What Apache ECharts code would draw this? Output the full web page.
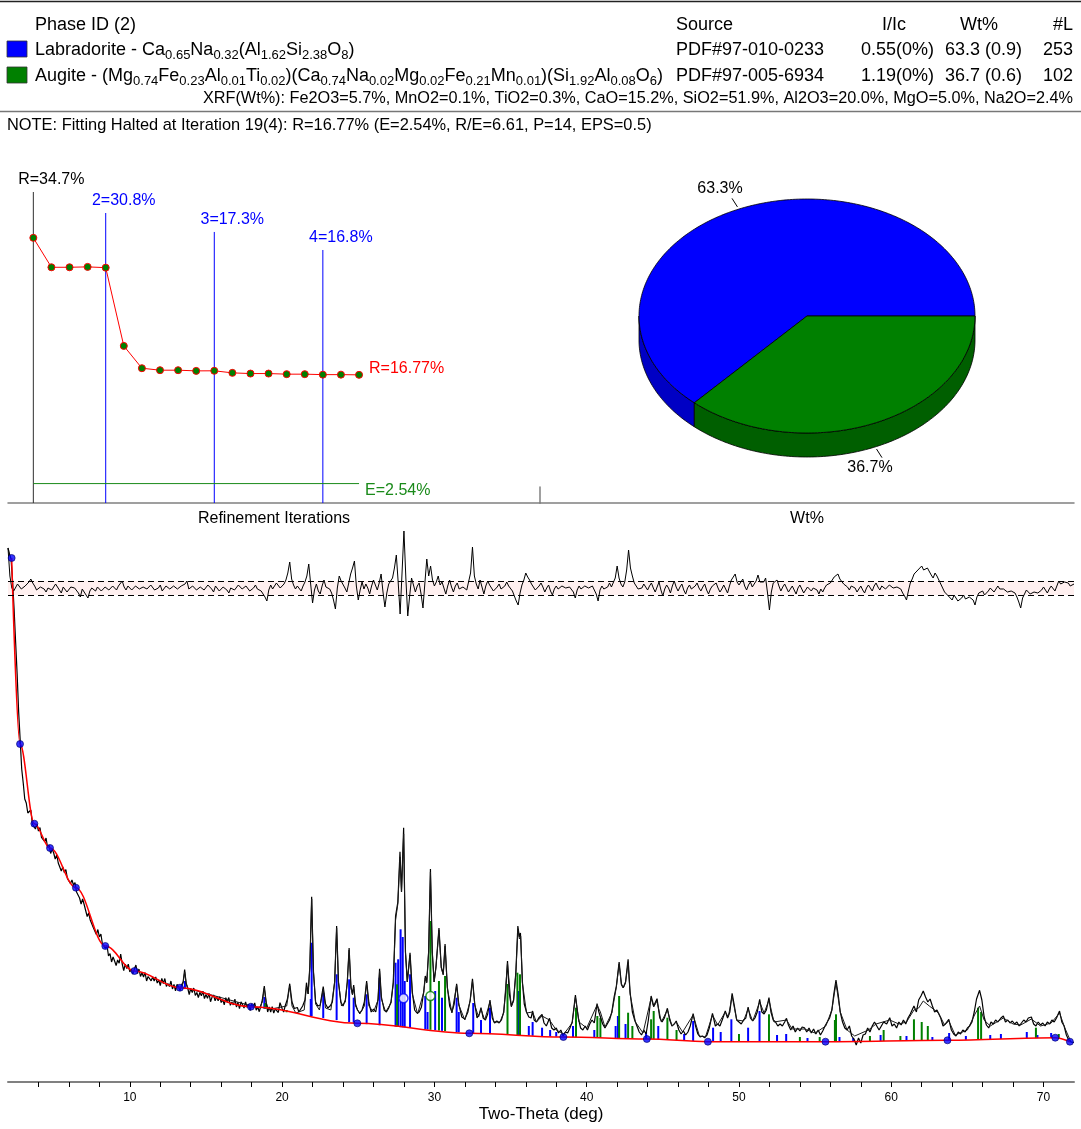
<!DOCTYPE html>
<html>
<head>
<meta charset="utf-8">
<script src="https://cdn.jsdelivr.net/npm/echarts@6.0.0/dist/echarts.min.js"></script>
<style>
html,body{margin:0;padding:0;background:#fff;}
#chart{width:1081px;height:1129px;}
</style>
</head>
<body>
<div id="chart"></div>
<script>
// ================= DATA =================
const phaseNames = ['Labradorite', 'Augite'];
const phaseFormulas = [
  'Ca_{0.65}Na_{0.32}(Al_{1.62}Si_{2.38}O_{8})',
  '(Mg_{0.74}Fe_{0.23}Al_{0.01}Ti_{0.02})(Ca_{0.74}Na_{0.02}Mg_{0.02}Fe_{0.21}Mn_{0.01})(Si_{1.92}Al_{0.08}O_{6})'
];
const phaseSource = ['PDF#97-010-0233', 'PDF#97-005-6934'];
const phaseIIc = ['0.55(0%)', '1.19(0%)'];
const phaseWt = [63.3, 36.7];
const phaseWtErr = [0.9, 0.6];
const phaseNumLines = [253, 102];
const tableHeaders = ['Phase ID (2)', 'Source', 'I/Ic', 'Wt%', '#L'];
const xrfText = 'XRF(Wt%): Fe2O3=5.7%, MnO2=0.1%, TiO2=0.3%, CaO=15.2%, SiO2=51.9%, Al2O3=20.0%, MgO=5.0%, Na2O=2.4%';
const noteText = 'NOTE: Fitting Halted at Iteration 19(4): R=16.77% (E=2.54%, R/E=6.61, P=14, EPS=0.5)';

// refinement iterations: R (%) per iteration
const iterR = [34.7, 30.85, 30.85, 30.9, 30.8, 20.56, 17.64, 17.38, 17.38, 17.29, 17.3, 17.03, 16.94, 16.94, 16.86, 16.86, 16.8, 16.8, 16.77];
const stageIters = [1, 5, 11, 17];
const stageR = [34.7, 30.8, 17.3, 16.8];
const finalR = 16.77;
const expectedE = 2.54;

// XRD pattern (Two-Theta deg, intensity)
const bgNodes = [[2.24,5240],[2.79,3380],[3.73,2583],[4.76,2340],[6.46,1943],[8.39,1360],[10.31,1110],[13.29,943],[17.95,753],[24.94,587],[32.29,487],[38.47,450],[43.95,430],[47.96,403],[55.68,403],[63.69,417],[70.77,443],[71.73,403]];

const obsData = [
[2.0,5340],[2.1,5280],[2.2,5230],[2.3,5010],[2.4,4730],[2.5,4400],[2.6,4080],[2.7,3700],[2.8,3420],[2.9,3130],
[3.0,2990],[3.1,2830],[3.2,2790],[3.3,2690],[3.4,2700],[3.5,2720],[3.6,2580],[3.7,2600],[3.8,2530],[3.9,2580],
[4.0,2510],[4.1,2545],[4.2,2445],[4.3,2455],[4.4,2405],[4.5,2440],[4.6,2345],[4.7,2370],[4.8,2285],[4.9,2330],
[5.0,2290],[5.1,2230],[5.2,2270],[5.3,2190],[5.4,2200],[5.5,2110],[5.6,2150],[5.7,2095],[5.8,2125],[5.9,2035],
[6.0,2050],[6.1,1985],[6.2,2020],[6.3,1970],[6.4,1995],[6.5,1900],[6.6,1910],[6.7,1840],[6.8,1780],[6.9,1830],
[7.0,1775],[7.1,1765],[7.2,1655],[7.3,1690],[7.4,1620],[7.5,1630],[7.6,1545],[7.7,1550],[7.8,1475],[7.9,1525],
[8.0,1450],[8.1,1480],[8.2,1380],[8.3,1385],[8.4,1335],[8.5,1365],[8.6,1260],[8.7,1285],[8.8,1200],[8.9,1250],
[9.0,1210],[9.1,1165],[9.2,1220],[9.3,1188],[9.4,1280],[9.5,1180],[9.6,1115],[9.7,1178],[9.8,1135],[9.9,1178],
[10.0,1100],[10.1,1130],[10.2,1080],[10.3,1130],[10.4,1170],[10.5,1085],[10.6,1130],[10.7,1055],[10.8,1093],[10.9,1050],
[11.0,1095],[11.1,1010],[11.2,1055],[11.3,1075],[11.4,1012],[11.5,1050],[11.6,1010],[11.7,1050],[11.8,990],[11.9,1020],
[12.0,965],[12.1,1035],[12.2,985],[12.3,1035],[12.4,955],[12.5,985],[12.6,955],[12.7,1010],[12.8,930],[12.9,975],
[13.0,912],[13.1,977],[13.2,948],[13.3,913],[13.4,973],[13.5,1000],[13.6,1125],[13.7,985],[13.8,940],[13.9,875],
[14.0,935],[14.1,895],[14.2,940],[14.3,865],[14.4,895],[14.5,845],[14.6,896],[14.7,862],[14.8,908],[14.9,834],
[15.0,875],[15.1,836],[15.2,887],[15.3,803],[15.4,849],[15.5,870],[15.6,811],[15.7,852],[15.8,813],[15.9,854],
[16.0,795],[16.1,826],[16.2,772],[16.3,843],[16.4,794],[16.5,845],[16.6,767],[16.7,799],[16.8,771],[16.9,828],
[17.0,750],[17.1,797],[17.2,734],[17.3,801],[17.4,773],[17.5,740],[17.6,801],[17.7,747],[17.8,778],[17.9,715],
[18.0,782],[18.1,744],[18.2,791],[18.3,718],[18.4,750],[18.5,703],[18.6,756],[18.7,820],[18.83,960],[18.95,800],
[19.05,700],[19.15,752],[19.25,700],[19.35,753],[19.45,690],[19.55,731],[19.65,748],[19.75,695],[19.86,793],[20.0,735],
[20.1,700],[20.2,760],[20.35,830],[20.5,983],[20.65,800],[20.8,735],[21.0,745],[21.1,700],[21.2,720],[21.35,760],[21.5,820],[21.6,993],
[21.7,880],[21.82,1150],[21.94,1853],[22.06,1100],[22.2,800],[22.35,760],[22.5,770],[22.7,953],[22.85,780],[23.0,740],
[23.15,760],[23.3,800],[23.45,1000],[23.58,1560],[23.7,1000],[23.85,800],[24.0,760],[24.15,820],[24.28,1000],[24.4,1340],
[24.52,950],[24.62,880],[24.7,970],[24.82,780],[24.95,720],[25.1,690],[25.25,720],[25.4,800],[25.55,1010],[25.7,790],
[25.85,700],[26.0,730],[26.15,700],[26.3,830],[26.4,1133],[26.52,850],[26.7,720],[26.85,700],[27.0,740],[27.15,800],
[27.3,1000],[27.45,1660],[27.6,1800],[27.74,2303],[27.84,1900],[27.98,2543],[28.1,1300],[28.22,1000],[28.4,1293],[28.55,900],
[28.7,720],[28.85,690],[29.0,700],[29.15,750],[29.3,900],[29.4,1060],[29.5,1000],[29.62,1300],[29.74,2130],[29.86,1300],
[29.98,1000],[30.1,1150],[30.3,1540],[30.45,1150],[30.58,1080],[30.7,1380],[30.85,950],[31.0,760],[31.15,700],[31.3,780],
[31.46,983],[31.6,780],[31.8,650],[32.0,630],[32.2,700],[32.35,820],[32.5,1033],[32.65,780],[32.8,640],[32.95,680],
[33.06,743],[33.2,640],[33.35,620],[33.5,680],[33.65,820],[33.8,640],[33.95,590],[34.1,610],[34.25,590],[34.4,620],
[34.55,700],[34.68,900],[34.8,1210],[34.92,880],[35.05,760],[35.2,820],[35.35,1100],[35.48,1560],[35.58,1450],[35.65,1490],
[35.78,1000],[35.9,780],[36.05,700],[36.2,650],[36.35,640],[36.45,710],[36.55,620],[36.7,600],[36.85,640],[37.07,677],
[37.2,590],[37.35,560],[37.56,637],[37.7,540],[37.85,520],[38.0,540],[38.15,490],[38.3,520],[38.45,460],[38.6,500],
[38.75,490],[38.9,540],[39.05,600],[39.26,870],[39.45,640],[39.6,540],[39.75,520],[39.9,560],[40.05,520],[40.2,580],
[40.35,620],[40.5,590],[40.68,783],[40.8,700],[40.9,710],[41.05,580],[41.2,540],[41.35,580],[41.5,620],[41.65,700],
[41.8,850],[41.95,960],[42.13,1200],[42.28,980],[42.4,943],[42.55,1000],[42.72,1227],[42.85,900],[43.0,700],[43.15,620],
[43.3,560],[43.45,500],[43.6,470],[43.75,520],[43.9,480],[44.05,620],[44.23,860],[44.4,760],[44.62,833],[44.8,640],
[44.95,600],[45.1,640],[45.3,737],[45.45,620],[45.6,560],[45.75,580],[45.88,610],[46.05,520],[46.2,480],[46.35,510],
[46.5,470],[46.65,500],[46.8,560],[46.99,683],[47.15,560],[47.3,480],[47.45,450],[47.6,460],[47.75,443],[47.9,470],
[48.05,540],[48.26,687],[48.45,560],[48.6,580],[48.75,560],[48.9,620],[49.1,710],[49.25,640],[49.4,700],[49.55,887],
[49.7,760],[49.85,620],[50.0,600],[50.15,580],[50.3,620],[50.45,640],[50.6,750],[50.75,640],[50.9,610],[51.05,640],
[51.2,700],[51.36,827],[51.5,700],[51.65,680],[51.8,720],[51.97,843],[52.1,700],[52.25,620],[52.4,600],[52.55,560],
[52.7,580],[52.85,560],[53.0,600],[53.12,637],[53.25,570],[53.4,520],[53.55,560],[53.7,500],[53.85,540],[54.0,510],
[54.15,550],[54.3,543],[54.45,500],[54.6,540],[54.75,490],[54.9,530],[55.05,480],[55.2,520],[55.35,470],[55.5,510],
[55.65,560],[55.8,600],[55.95,640],[56.1,720],[56.22,870],[56.37,1020],[56.52,870],[56.65,700],[56.8,600],[56.95,540],
[57.1,520],[57.25,560],[57.4,460],[57.55,430],[57.7,370],[57.85,440],[58.0,390],[58.15,470],[58.3,480],[58.45,540],
[58.6,500],[58.75,560],[58.9,600],[59.05,560],[59.2,520],[59.35,560],[59.5,600],[59.7,580],[59.9,643],[60.05,560],
[60.2,580],[60.35,540],[60.5,600],[60.65,570],[60.8,620],[60.95,580],[61.1,640],[61.25,680],[61.49,760],[61.65,700],
[61.8,820],[61.95,860],[62.1,910],[62.25,850],[62.4,800],[62.55,830],[62.7,760],[62.85,700],[63.0,720],[63.1,727],
[63.25,640],[63.4,560],[63.55,580],[63.78,627],[63.95,520],[64.1,480],[64.25,460],[64.4,500],[64.55,480],[64.7,520],
[64.85,500],[65.0,540],[65.15,560],[65.3,600],[65.45,700],[65.6,830],[65.8,917],[65.95,820],[66.1,650],[66.25,570],
[66.4,540],[66.55,600],[66.7,580],[66.85,620],[67.0,600],[67.2,640],[67.36,660],[67.5,600],[67.65,620],[67.8,590],
[67.95,610],[68.1,580],[68.25,600],[68.4,560],[68.55,590],[68.7,620],[68.85,600],[69.0,640],[69.2,650],[69.35,580],
[69.5,560],[69.65,600],[69.8,570],[69.95,590],[70.1,560],[70.25,600],[70.4,580],[70.55,620],[70.7,600],[70.85,640],
[71.05,710],[71.2,600],[71.35,560],[71.5,470],[71.65,420],[71.8,400],[72.0,395]
];

const calcData = [
[13.0,957],[13.4,945],[13.5,990],[13.6,1100],[13.7,990],[13.8,935],[18.5,740],[18.7,800],[18.83,940],[18.95,800],[19.1,725],
[20.3,760],[20.5,960],[20.65,760],[20.9,690],[21.45,720],[21.6,950],[21.72,880],[21.82,1150],[21.94,1830],[22.06,1100],
[22.2,780],[22.45,720],[22.7,930],[22.85,740],[23.2,720],[23.45,1000],[23.58,1540],[23.7,1000],[23.9,760],[24.15,800],
[24.28,1000],[24.4,1320],[24.52,940],[24.62,870],[24.7,950],[24.82,760],[25.1,680],[25.4,760],[25.55,990],[25.7,760],
[26.0,700],[26.3,820],[26.4,1110],[26.52,830],[26.8,700],[27.15,790],[27.3,980],[27.45,1620],[27.6,1780],[27.74,2250],
[27.84,1900],[27.98,2480],[28.1,1300],[28.22,1000],[28.4,1270],[28.55,880],[28.9,680],[29.3,900],[29.4,1040],[29.5,990],
[29.62,1300],[29.74,2100],[29.86,1300],[29.98,1000],[30.1,1140],[30.3,1520],[30.45,1140],[30.58,1070],[30.7,1360],[30.85,940],
[31.15,690],[31.46,970],[31.6,770],[32.0,620],[32.35,810],[32.5,1010],[32.65,770],[32.9,650],[33.06,730],[33.3,620],
[33.65,800],[33.9,600],[34.3,600],[34.55,690],[34.8,1190],[35.05,750],[35.2,810],[35.35,1090],[35.48,1520],[35.58,1430],
[35.67,1460],[35.78,990],[36.05,690],[36.45,700],[36.7,600],[37.07,660],[37.56,620],[38.0,520],[38.5,480],[39.05,590],
[39.26,850],[39.5,600],[40.0,540],[40.68,770],[40.9,700],[41.2,550],[41.65,690],[41.95,950],[42.13,1180],[42.28,970],
[42.4,940],[42.55,990],[42.72,1190],[42.85,880],[43.2,600],[43.7,490],[44.23,840],[44.4,750],[44.62,810],[44.9,600],
[45.3,720],[45.6,560],[45.88,600],[46.3,500],[46.99,670],[47.4,460],[47.8,450],[48.26,670],[48.6,570],[49.1,700],
[49.3,650],[49.55,860],[49.85,620],[50.3,610],[50.6,730],[50.9,610],[51.36,800],[51.65,690],[51.97,820],[52.3,600],
[53.12,620],[53.5,530],[54.3,530],[55.0,490],[55.7,560],[56.1,720],[56.37,990],[56.65,700],[57.1,520],[57.6,460],
[58.5,520],[59.0,580],[59.9,620],[60.5,580],[61.0,600],[61.49,720],[61.8,740],[62.1,810],[62.5,760],[63.1,690],
[63.5,570],[63.78,610],[64.2,470],[65.0,520],[65.5,680],[65.8,760],[66.1,620],[66.5,560],[67.36,640],[68.0,580],
[68.5,570],[69.2,630],[69.8,560],[70.5,590],[71.05,690],[71.4,540],[71.8,400],[72.0,395]
];

// difference curve, sampled every 0.125 deg from 2.0 deg (one row per degree)
const residStart = 2.0, residStep = 0.125;
const residVals = [
40,12,0,-3,-2,4,3,-1,
-1,2,4,6,9,5,2,-2,
-3,1,3,-1,-4,0,2,-2,
-3,4,1,-2,-5,1,2,-4,
-3,1,3,0,-2,-5,-9,-1,
-4,-6,-10,-3,0,2,-3,1,
2,-3,-2,1,3,-2,-1,2,
1,-2,2,4,7,1,-2,2,
3,-2,0,2,4,-1,-3,1,
3,-1,-2,3,2,-2,-4,0,
3,-3,-1,2,2,-1,-3,2,
4,-1,-2,2,1,4,7,-1,
-3,2,2,-2,-4,1,3,-2,
-2,3,2,-1,-4,2,1,-3,
-3,1,2,-2,-5,0,1,-2,
-3,3,2,-1,-2,2,0,-3,
-5,0,3,-1,1,-3,-6,-9,
-13,-2,3,-1,1,5,4,0,
2,4,8,15,26,9,3,-1,
2,1,-3,2,6,12,24,4,
-15,-2,4,-3,-6,2,8,1,
3,-1,-5,-12,-21,0,12,7,
5,0,-4,5,14,20,27,2,
-12,-2,6,-1,4,0,-6,2,
8,3,-2,5,14,-4,-19,-5,
4,6,10,20,33,5,-26,15,
57,10,-28,-8,10,3,-4,2,
5,-6,-20,5,29,12,22,8,
2,6,12,3,6,0,-6,2,
8,1,-4,2,5,-1,-3,1,
2,-2,0,15,41,12,4,-1,
8,1,-6,2,7,3,2,-3,
-4,1,4,-1,-3,2,6,2,
1,-3,-8,-13,-17,-5,3,8,
15,11,8,4,2,-2,-3,2,
5,1,-4,0,3,-3,-7,-1,
2,-1,-3,2,4,0,-2,1,
3,-4,-10,-2,2,-1,-3,2,
4,0,-2,2,3,-6,-13,-2,
2,-1,-3,1,5,1,3,10,
22,10,4,1,6,18,38,20,
12,5,2,-1,-3,0,4,1,
-2,2,5,0,-4,1,6,-2,
-8,-1,3,0,-5,2,7,1,
-3,1,4,-2,-6,0,3,-1,
-2,2,5,0,-3,1,4,-2,
-6,-1,2,3,5,0,-4,-1,
3,-1,-5,2,8,10,14,6,
3,6,9,2,-2,3,6,1,
2,7,13,6,4,6,10,-5,
-22,-4,5,3,8,2,-3,1,
4,0,-4,-1,2,-2,-6,0,
3,-1,-5,-2,1,-1,-3,0,
2,-2,-6,-1,-4,0,3,1,
5,8,11,13,14,9,7,4,
3,1,-2,2,4,0,-4,-1,
2,-2,-5,0,3,1,-3,2,
5,1,-2,2,4,-1,1,3,
3,0,-2,1,2,-1,-5,-8,
-12,-3,5,9,14,15,18,20,
22,18,16,20,19,13,10,15,
12,8,4,0,-4,-6,-8,-10,
-12,-7,-9,-13,-15,-10,-7,-11,
-13,-9,-8,-12,-17,-9,-5,-6,
-3,-7,-9,-3,0,-2,-4,-1,
2,-1,-3,-1,0,-4,-6,-3,
-2,-5,-9,-14,-20,-10,-6,-2,
-3,-6,-8,-4,-2,-5,-7,-2,
1,-2,-5,-1,2,0,-3,2,
7,4,3,6,8,5,2,3,
4
];
const residSigma = 7;

// phase lines (Two-Theta, top intensity)
const stickLab = [[13.62,1010],[18.83,850],[21.88,830],[21.94,1393],[22.7,893],[23.58,1077],[24.4,1027],[24.7,843],[25.55,877],[26.4,1043],[27.45,1193],[27.62,1227],[27.78,1527],[27.92,1450],[28.05,1010],[28.4,1077],[29.4,860],[29.55,700],[30.05,910],[30.5,843],[31.46,843],[31.6,700],[32.55,790],[33.06,620],[33.65,743],[35.55,910],[36.2,560],[36.45,600],[37.07,543],[37.6,520],[38.0,500],[39.1,560],[40.5,520],[41.9,560],[42.05,660],[42.55,580],[43.9,500],[44.7,560],[46.4,480],[46.99,610],[48.3,543],[48.8,500],[49.5,627],[50.6,543],[51.35,710],[52.5,470],[53.1,480],[54.5,440],[56.6,450],[57.5,440],[59.3,470],[61.0,460],[62.7,450],[63.8,490],[64.9,460],[66.5,470],[67.2,480],[68.9,500],[69.6,470],[70.5,490]];
const stickAug = [[18.9,790],[20.3,720],[27.55,977],[29.74,1610],[30.3,1010],[30.7,1060],[34.8,980],[35.45,1093],[35.62,1077],[39.3,743],[40.7,660],[40.9,640],[42.13,860],[42.72,693],[43.0,560],[44.23,627],[44.4,710],[45.3,643],[45.9,520],[50.0,480],[51.97,677],[54.0,450],[55.3,450],[56.3,620],[56.37,677],[58.6,460],[59.5,520],[60.6,460],[61.49,627],[62.0,600],[62.4,560],[65.7,743],[65.9,700],[69.5,543],[71.0,480]];
// strongest-line markers per phase
const refMarks = [[27.97,837],[29.74,860]];

const ttTicks = [4,6,8,10,12,14,16,18,20,22,24,26,28,30,32,34,36,38,40,42,44,46,48,50,52,54,56,58,60,62,64,66,68,70];
const ttLabels = [10,20,30,40,50,60,70];

// ================= STYLE / LAYOUT =================
const F = '"Liberation Sans", Arial, Helvetica, sans-serif';
const FF = 'Liberation Sans';
const phaseColors = ['#0000ff', '#008000'];
const sideColors = ['#0000c4', '#005f00'];
const stageColors = ['#303030', '#0000ff', '#0000ff', '#0000ff'];
const stageLabelColors = ['#000000', '#0000ff', '#0000ff', '#0000ff'];
const stageTop = [40.7, 37.95, 35.47, 33.11];

function bgAt(x) {
  if (x <= bgNodes[0][0]) return bgNodes[0][1];
  for (let k = 1; k < bgNodes.length; k++) {
    if (x <= bgNodes[k][0]) {
      const a = bgNodes[k-1], b = bgNodes[k];
      return a[1] + (b[1]-a[1]) * (x-a[0]) / (b[0]-a[0]);
    }
  }
  return bgNodes[bgNodes.length-1][1];
}

// pie angles
const wtTotal = phaseWt.reduce((a,b)=>a+b,0);
const sliceStart = [], sliceEnd = [];
{ let a = 0; phaseWt.forEach(v => { sliceStart.push(a); a += 2*Math.PI*v/wtTotal; sliceEnd.push(a); }); }

function pieRender(params, api) {
  const i = params.dataIndex;
  const a0 = sliceStart[i], a1 = sliceEnd[i];
  const D = 0.205;
  const ptTop = t => api.coord([Math.cos(t), Math.sin(t)]);
  const ptBot = t => api.coord([Math.cos(t), Math.sin(t) - D]);
  const arc = (s, e, f) => {
    const n = Math.max(2, Math.ceil((e - s) / (Math.PI / 180)));
    const out = [];
    for (let k = 0; k <= n; k++) out.push(f(s + (e - s) * k / n));
    return out;
  };
  const children = [];
  const s = Math.max(a0, Math.PI), e = Math.min(a1, 2 * Math.PI);
  if (e > s) {
    const pts = arc(s, e, ptTop).concat(arc(s, e, ptBot).reverse());
    children.push({type:'polygon', shape:{points:pts}, style:{fill:sideColors[i], stroke:'#000', lineWidth:0.8}});
  }
  const top = [api.coord([0,0])].concat(arc(a0, a1, ptTop));
  children.push({type:'polygon', shape:{points:top}, style:{fill:phaseColors[i], stroke:'#000', lineWidth:0.8}});
  const m = (a0 + a1) / 2;
  const front = Math.sin(m) < 0;
  const off = front ? D : 0;
  const p1 = api.coord([1.02*Math.cos(m), 1.02*Math.sin(m) - off]);
  const p2 = api.coord([1.1*Math.cos(m), 1.1*Math.sin(m) - off]);
  children.push({type:'line', shape:{x1:p1[0], y1:p1[1], x2:p2[0], y2:p2[1]}, style:{stroke:'#000', lineWidth:1}});
  children.push({type:'text', x:p2[0]-12, y:p2[1] + (front ? 10 : -10),
    style:{text: phaseWt[i].toFixed(1) + '%', font:'16px ' + F, fill:'#000',
      align:'center', verticalAlign:'middle', textAlign:'center', textVerticalAlign:'middle'}});
  return {type:'group', children};
}

function stickRender(color) {
  return function (params, api) {
    const x = api.value(0), top = api.value(1);
    const base = bgAt(x);
    const p0 = api.coord([x, base]), p1 = api.coord([x, top]);
    return {type:'rect', shape:{x:p0[0]-1, y:p1[1], width:2, height:Math.max(0, p0[1]-p1[1])}, style:{fill:color}};
  };
}

function subRich(s) { return s.replace(/_\{([^}]*)\}/g, '{s|$1}'); }
const richSub = {
  s: {fontSize: 13, fontFamily: FF, fill: '#000', color: '#000', verticalAlign: 'bottom', lineHeight: 12}
};

function txt(x, y, text, size, align, extra) {
  return Object.assign({type:'text', x, y, silent:true,
    style: Object.assign({text, font: size + 'px ' + F, fill:'#000',
      align: align, textAlign: align, verticalAlign:'middle', textVerticalAlign:'middle'}, extra || {})});
}

const rowY = [50, 76];
const graphics = [
  {type:'line', silent:true, shape:{x1:0, y1:1.5, x2:1081, y2:1.5}, style:{stroke:'#222', lineWidth:1.5}},
  txt(35, 25, tableHeaders[0], 18, 'left'),
  txt(676, 25, tableHeaders[1], 18, 'left'),
  txt(906, 25, tableHeaders[2], 18, 'right'),
  txt(998, 25, tableHeaders[3], 18, 'right'),
  txt(1073, 25, tableHeaders[4], 18, 'right'),
  txt(1073, 99, xrfText, 16.25, 'right'),
  {type:'line', silent:true, shape:{x1:0, y1:111.5, x2:1081, y2:111.5}, style:{stroke:'#777', lineWidth:1.5}},
  txt(7, 125, noteText, 16.4, 'left')
];
phaseNames.forEach((nm, i) => {
  graphics.push({type:'rect', silent:true, shape:{x:7, y:rowY[i]-9, width:20, height:16}, style:{fill:phaseColors[i], stroke:'#333', lineWidth:0.8}});
  graphics.push(txt(35, rowY[i], nm + ' - ' + subRich(phaseFormulas[i]), 18, 'left', {rich: richSub, lineHeight: 24}));
  graphics.push(txt(676, rowY[i], phaseSource[i], 18, 'left'));
  graphics.push(txt(934, rowY[i], phaseIIc[i], 18, 'right'));
  graphics.push(txt(1022, rowY[i], phaseWt[i].toFixed(1) + ' (' + phaseWtErr[i].toFixed(1) + ')', 18, 'right'));
  graphics.push(txt(1073, rowY[i], String(phaseNumLines[i]), 18, 'right'));
});

const hidden = {show:false};
const series = [];

// ---- refinement iterations: stage lines ----
stageIters.forEach((it, k) => {
  series.push({
    type:'line', xAxisIndex:0, yAxisIndex:0, z:1, silent:true,
    data:[[it, 0], {value:[it, stageTop[k]],
      label:{show:true, position:'top', distance:4,
        formatter:(k === 0 ? 'R' : String(k+1)) + '=' + stageR[k].toFixed(1) + '%',
        color:stageLabelColors[k], fontSize:16, fontFamily:FF, offset:[18,0]}}],
    symbol:'circle', symbolSize:0, showSymbol:true,
    itemStyle:{color:stageColors[k]},
    lineStyle:{color:stageColors[k], width:1}
  });
});
series.push({
  type:'line', xAxisIndex:0, yAxisIndex:0, z:3,
  data: iterR.map((r, i) => i === iterR.length - 1
    ? {value:[i+1, r], label:{show:true, position:'right', distance:6, formatter:'R=' + finalR.toFixed(2) + '%', color:'#ff0000', fontSize:16, fontFamily:FF, offset:[0,-6]}}
    : [i+1, r]),
  symbol:'circle', symbolSize:7, showAllSymbol:true,
  lineStyle:{color:'#ff0000', width:1},
  itemStyle:{color:'#008000', borderColor:'#ff0000', borderWidth:1}
});
series.push({
  type:'line', xAxisIndex:0, yAxisIndex:0, z:2,
  data:[[1, expectedE], [iterR.length, expectedE]],
  symbol:'none', lineStyle:{color:'#1a8a1a', width:1},
  endLabel:{show:true, formatter:'E=' + expectedE.toFixed(2) + '%', color:'#1a8a1a', fontSize:16, fontFamily:FF, distance:6, offset:[0,7]}
});
// ---- pie ----
series.push({
  type:'custom', xAxisIndex:1, yAxisIndex:1, renderItem:pieRender,
  data: phaseWt.map((v, i) => ({name:phaseNames[i], value:[v]})),
  silent:true, clip:false
});
// ---- difference curve ----
series.push({
  type:'line', xAxisIndex:4, yAxisIndex:4, z:3,
  data: residVals.map((v, i) => [residStart + i * residStep, v]),
  symbol:'none', lineStyle:{color:'#000', width:1}, clip:false,
  markArea:{silent:true, itemStyle:{color:'#fff0f0'}, data:[[{yAxis:-residSigma}, {yAxis:residSigma}]]},
  markLine:{silent:true, symbol:'none', label:hidden, lineStyle:{color:'#000', type:[6,4], width:1},
    data:[{yAxis:residSigma}, {yAxis:-residSigma}]}
});
// ---- phase lines ----
series.push({type:'custom', xAxisIndex:3, yAxisIndex:3, z:1, renderItem:stickRender(phaseColors[0]), data:stickLab, silent:true});
series.push({type:'custom', xAxisIndex:3, yAxisIndex:3, z:1, renderItem:stickRender(phaseColors[1]), data:stickAug, silent:true});
// ---- observed / calculated ----
series.push({type:'line', xAxisIndex:3, yAxisIndex:3, z:2, data:obsData, symbol:'none', lineStyle:{color:'#000', width:1.2}});
series.push({type:'line', xAxisIndex:3, yAxisIndex:3, z:2, data:calcData, symbol:'none', lineStyle:{color:'#1a1a1a', width:1}});
// ---- background ----
series.push({type:'line', xAxisIndex:3, yAxisIndex:3, z:4, data:bgNodes, symbol:'none', smooth:0.35, smoothMonotone:'x',
  lineStyle:{color:'#ff0000', width:1.5}});
series.push({type:'scatter', xAxisIndex:3, yAxisIndex:3, z:5, data:bgNodes, symbol:'circle', symbolSize:7,
  itemStyle:{color:'#0000ff', borderColor:'#000066', borderWidth:0.8}});
series.push({type:'scatter', xAxisIndex:3, yAxisIndex:3, z:6,
  data: refMarks.map((d, i) => ({value:d, itemStyle:{color:'#fff', borderColor:phaseColors[i], borderWidth:1.5}})),
  symbol:'circle', symbolSize:9});

const option = {
  animation: false,
  backgroundColor: '#fff',
  textStyle: {fontFamily: FF},
  graphic: {elements: graphics},
  grid: [
    {left:8, top:192, width:532, height:311},   // iterations
    {left:639, top:199, width:336, height:258}, // pie
    {left:540, top:487, width:534, height:16},  // wt% baseline
    {left:8, top:542, width:1066, height:540},  // pattern
    {left:8, top:530, width:1066, height:116}   // difference
  ],
  xAxis: [
    {gridIndex:0, type:'value', min:-0.4, max:29, axisLine:{show:true, onZero:false, lineStyle:{color:'#808080', width:1.5}},
     axisTick:hidden, axisLabel:hidden, splitLine:hidden,
     name:'Refinement Iterations', nameLocation:'middle', nameGap:8,
     nameTextStyle:{fontSize:16, color:'#000', fontFamily:FF, verticalAlign:'top'}},
    {gridIndex:1, type:'value', min:-1, max:1, show:false},
    {gridIndex:2, type:'value', min:0, max:1, axisLine:{show:true, lineStyle:{color:'#808080', width:1.5}},
     axisTick:hidden, axisLabel:hidden, splitLine:hidden,
     name:'Wt%', nameLocation:'middle', nameGap:8,
     nameTextStyle:{fontSize:16, color:'#000', fontFamily:FF, verticalAlign:'top'}},
    {gridIndex:3, type:'value', min:2, max:72, interval:2,
     axisLine:{show:true, onZero:false, lineStyle:{color:'#808080', width:2}},
     axisTick:{show:true, customValues:ttTicks, length:5, lineStyle:{color:'#000', width:1}},
     axisLabel:{show:true, customValues:ttLabels, fontSize:12, color:'#000', margin:10, fontFamily:FF},
     splitLine:hidden,
     name:'Two-Theta (deg)', nameLocation:'middle', nameGap:24,
     nameTextStyle:{fontSize:17, color:'#000', fontFamily:FF, verticalAlign:'top'}},
    {gridIndex:4, type:'value', min:2, max:72, show:false}
  ],
  yAxis: [
    {gridIndex:0, type:'value', min:0, max:40.7, show:false},
    {gridIndex:1, type:'value', min:-1.205, max:1, show:false},
    {gridIndex:2, type:'value', min:0, max:1, axisLine:{show:true, lineStyle:{color:'#808080', width:1.5}}, axisTick:hidden, axisLabel:hidden, splitLine:hidden},
    {gridIndex:3, type:'value', min:0, max:5400, show:false},
    {gridIndex:4, type:'value', min:-58, max:58, show:false}
  ],
  series: series
};

const chart = echarts.init(document.getElementById('chart'), null, {renderer:'canvas'});
chart.setOption(option);
</script>
</body>
</html>
